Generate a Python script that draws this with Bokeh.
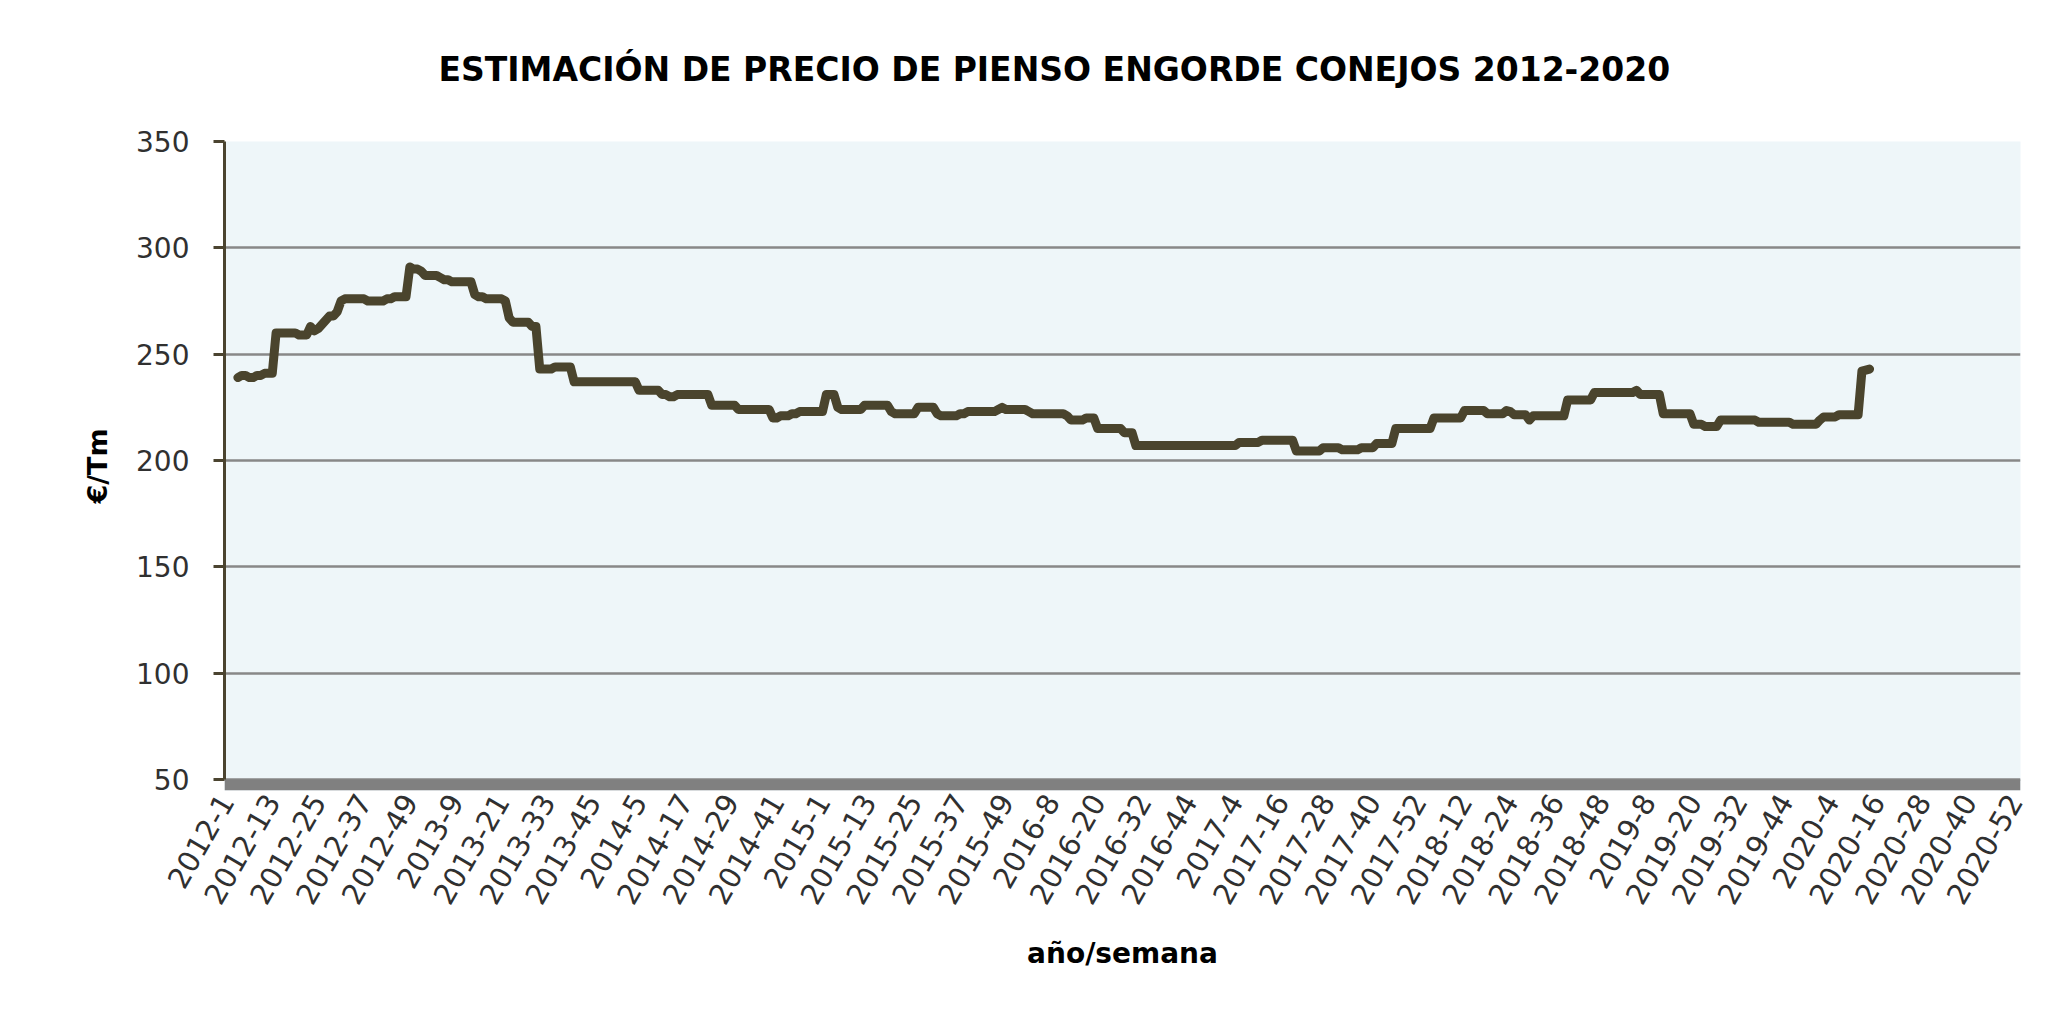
import math
from bokeh.plotting import figure
from bokeh.models import Range1d, FixedTicker, BoxAnnotation, ColumnDataSource, Title
from bokeh.embed import file_html
from bokeh.resources import INLINE

# ---------------- data ----------------
years = [2012, 2013, 2014, 2015, 2016, 2017, 2018, 2019, 2020]
weeks_in_year = [52, 52, 52, 53, 52, 52, 52, 52, 53]
first_label = "2012-4"

price_2012 = [239, 240, 240, 239, 239, 240, 240, 241, 241, 241,
              260, 260, 260, 260, 260, 260,
              259, 259, 259,
              263, 261, 262,
              264, 266, 268, 268, 270,
              275, 276, 276, 276, 276, 276, 276,
              275, 275, 275, 275, 275,
              276, 276, 277, 277, 277, 277,
              291, 290, 290, 289]
price_2013 = [287, 287, 287, 287, 286, 285, 285, 284, 284, 284, 284, 284, 284,
              278, 277, 277, 276, 276, 276, 276, 276, 275,
              267, 265, 265, 265, 265, 265, 263, 263,
              243, 243, 243, 243, 244, 244, 244, 244, 244,
              237, 237, 237, 237, 237, 237, 237, 237, 237, 237, 237, 237, 237]
price_2014 = [237, 237, 237, 237, 233, 233, 233, 233, 233, 233,
              231, 231, 230, 230, 231, 231, 231, 231, 231, 231, 231, 231, 231,
              226, 226, 226, 226, 226, 226, 226,
              224, 224, 224, 224, 224, 224, 224, 224, 224,
              220, 220, 221, 221, 221,
              222, 222, 223, 223, 223, 223, 223, 223]
price_2015 = [223, 231, 231, 231, 225, 224, 224, 224, 224, 224, 224,
              226, 226, 226, 226, 226, 226, 226,
              223, 222, 222, 222, 222, 222, 222,
              225, 225, 225, 225, 225,
              222, 221, 221, 221, 221, 221, 222,
              222, 223, 223, 223, 223, 223, 223, 223, 223,
              224, 225, 224, 224, 224, 224, 224]
price_2016 = [224, 223, 222, 222, 222, 222, 222, 222, 222, 222, 222,
              221, 219, 219, 219, 219, 220, 220, 220,
              215, 215, 215, 215, 215, 215, 215, 213, 213, 213,
              207, 207, 207, 207, 207, 207, 207, 207, 207, 207, 207, 207,
              207, 207, 207, 207, 207, 207, 207, 207, 207, 207, 207]
price_2017 = [207, 207, 207, 207,
              208.5, 208.5, 208.5, 208.5, 208.5, 208.5,
              209.5, 209.5, 209.5, 209.5, 209.5, 209.5, 209.5, 209.5, 209.5,
              204.5, 204.5, 204.5, 204.5, 204.5, 204.5, 204.5,
              206, 206, 206, 206, 206, 205, 205, 205, 205, 205,
              206, 206, 206, 206, 208, 208, 208, 208, 208,
              215, 215, 215, 215, 215, 215, 215]
price_2018 = [215, 215, 215, 220, 220, 220, 220, 220, 220, 220, 220,
              223.5, 223.5, 223.5, 223.5, 223.5, 223.5,
              222, 222, 222, 222, 222, 223.5, 223,
              221.5, 221.5, 221.5, 221.5, 219,
              221, 221, 221, 221, 221, 221, 221, 221, 221,
              228.5, 228.5, 228.5, 228.5, 228.5, 228.5, 228.5,
              232, 232, 232, 232, 232, 232, 232]
price_2019 = [232, 232, 232, 232, 233, 231, 231, 231, 231, 231, 231,
              222, 222, 222, 222, 222, 222, 222, 222,
              217, 217, 217, 216, 216, 216, 216,
              219, 219, 219, 219, 219, 219, 219, 219, 219, 219,
              218, 218, 218, 218, 218, 218, 218, 218, 218,
              217, 217, 217, 217, 217, 217, 217]
price_2020 = [219, 220.5, 220.5, 220.5, 220.5,
              221.5, 221.5, 221.5, 221.5, 221.5, 221.5,
              242, 242.5, 243]

y_ticks = [50, 100, 150, 200, 250, 300, 350]
title_text = "ESTIMACIÓN DE PRECIO DE PIENSO ENGORDE CONEJOS 2012-2020"
x_title = "año/semana"
y_title = "€/Tm"

# ---------------- categories ----------------
week_labels = [f"{y}-{w}" for y, n in zip(years, weeks_in_year) for w in range(1, n + 1)]
prices = (price_2012 + price_2013 + price_2014 + price_2015 + price_2016 +
          price_2017 + price_2018 + price_2019 + price_2020)
start = week_labels.index(first_label)
xs = list(range(start, start + len(prices)))
src = ColumnDataSource(dict(x=xs, y=prices, week=week_labels[start:start + len(prices)]))

tick_idx = list(range(0, len(week_labels), 12))

FONT = "DejaVu Sans"

p = figure(width=2054, height=1000, output_backend="svg", toolbar_location=None,
           x_range=Range1d(-0.5, len(week_labels) - 0.5),
           y_range=Range1d(44.83, 350),
           min_border_left=224, min_border_right=34,
           min_border_top=141, min_border_bottom=210)

p.background_fill_color = "#eef6f9"
p.border_fill_color = "white"
p.outline_line_color = None

# main title in the figure's own title slot
p.title.text = title_text
p.title.text_font = FONT
p.title.text_font_size = "33px"
p.title.text_font_style = "bold"
p.title.text_color = "#000000"
p.title.align = "left"
p.title.offset = 214
p.title.standoff = 0

# blank spacer panel (white on white) between frame and title
spacer = Title(text=".", text_font=FONT, text_font_size="10px",
               text_color="white", standoff=43)
p.add_layout(spacer, "above")

# floor under the category axis
p.add_layout(BoxAnnotation(top=50, fill_color="#808080", fill_alpha=1.0,
                           line_color=None, level="underlay"))

# grid
p.xgrid.visible = False
p.ygrid.ticker = FixedTicker(ticks=y_ticks)
p.ygrid.grid_line_color = "#888888"
p.ygrid.grid_line_width = 2.5

# y axis
ya = p.yaxis[0]
ya.ticker = FixedTicker(ticks=y_ticks)
ya.bounds = (50, 350)
ya.axis_line_color = "#4b4430"
ya.axis_line_width = 3
ya.major_tick_line_color = "#4b4430"
ya.major_tick_line_width = 3
ya.major_tick_out = 11
ya.major_tick_in = 0
ya.minor_tick_line_color = None
ya.major_label_text_font = FONT
ya.major_label_text_font_size = "28px"
ya.major_label_text_color = "#303030"
ya.major_label_standoff = 24
ya.axis_label = y_title
ya.axis_label_text_font = FONT
ya.axis_label_text_font_size = "27px"
ya.axis_label_text_font_style = "bold"
ya.axis_label_text_color = "#000000"
ya.axis_label_standoff = 20

# x axis
xa = p.xaxis[0]
xa.ticker = FixedTicker(ticks=tick_idx)
xa.major_label_overrides = {i: week_labels[i] for i in tick_idx}
xa.axis_line_color = None
xa.major_tick_line_color = None
xa.minor_tick_line_color = None
xa.major_tick_out = 0
xa.major_tick_in = 0
xa.major_label_orientation = math.radians(60)
xa.major_label_text_font = FONT
xa.major_label_text_font_size = "29px"
xa.major_label_text_color = "#303030"
xa.major_label_standoff = 6
xa.axis_label = x_title
xa.axis_label_text_font = FONT
xa.axis_label_text_font_size = "28px"
xa.axis_label_text_font_style = "bold"
xa.axis_label_text_color = "#000000"
xa.axis_label_standoff = 22

# series
p.line("x", "y", source=src, line_color="#4a442d", line_width=9,
       line_join="round", line_cap="round")

open("out.html", "w").write(file_html(p, INLINE))
